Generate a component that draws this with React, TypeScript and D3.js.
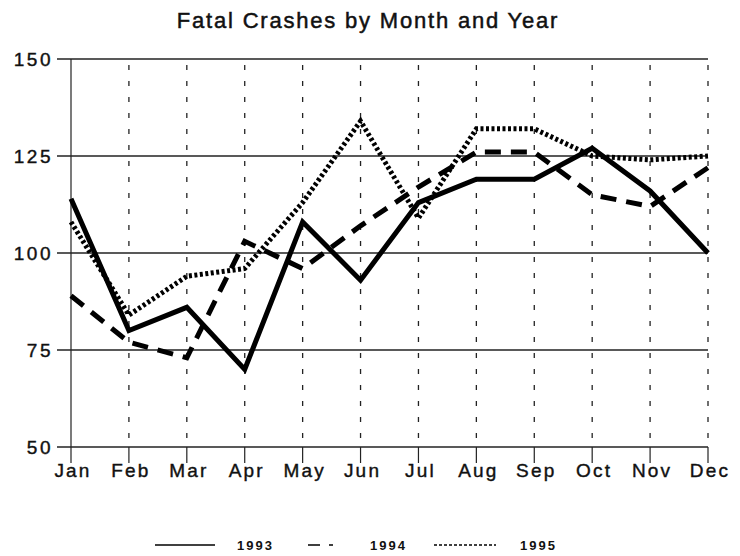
import { useRef, useEffect } from 'react';
import * as d3 from 'd3';

// values
const months = ['Jan', 'Feb', 'Mar', 'Apr', 'May', 'Jun', 'Jul', 'Aug', 'Sep', 'Oct', 'Nov', 'Dec'];
const crashes1993 = [114, 80, 86, 70, 108, 93, 113, 119, 119, 127, 116, 100];
const crashes1994 = [89, 77, 73, 103, 96, 107, 117, 126, 126, 115, 112, 122];
const crashes1995 = [108, 84, 94, 96, 113, 134, 109, 132, 132, 125, 124, 125];
const yTicks = [50, 75, 100, 125, 150];
const seriesNames = ['1993', '1994', '1995'];

const W = 740;
const H = 556;
const FONT = '"Liberation Sans", Arial, sans-serif';

// stroke styles per series: solid, long dash, short dash ("dotted")
const dashes = [null, '16,10', '3,2.5'];
const legendDashes = [null, '12,9,4,20', '3,2'];

export default function App() {
  const svgRef = useRef<SVGSVGElement>(null);

  useEffect(() => {
    const svg = d3.select(svgRef.current);
    svg.selectAll('*').remove();

    const left = 71, right = 708, top = 59, bottom = 447;

    const x = d3.scalePoint<string>().domain(months).range([left, right]);
    const y = d3.scaleLinear().domain([50, 150]).range([bottom, top]);

    svg.append('rect').attr('width', W).attr('height', H).attr('fill', '#fff');

    // title
    svg.append('text')
      .attr('x', 368)
      .attr('y', 28)
      .attr('text-anchor', 'middle')
      .attr('font-family', FONT)
      .attr('font-size', 22)
      .attr('letter-spacing', 1.8)
      .attr('fill', '#111')
      .attr('stroke', '#111')
      .attr('stroke-width', 0.5)
      .text('Fatal Crashes by Month and Year');

    // vertical dotted grid
    svg.append('g')
      .selectAll('line')
      .data(months.slice(1))
      .join('line')
      .attr('x1', d => x(d)!)
      .attr('x2', d => x(d)!)
      .attr('y1', top + 6)
      .attr('y2', bottom)
      .attr('stroke', '#222')
      .attr('stroke-width', 1.3)
      .attr('stroke-dasharray', '5,11');

    // horizontal grid + left ticks
    svg.append('g')
      .selectAll('line')
      .data(yTicks)
      .join('line')
      .attr('x1', left - 14)
      .attr('x2', right)
      .attr('y1', d => y(d))
      .attr('y2', d => y(d))
      .attr('stroke', '#222')
      .attr('stroke-width', 1.3);

    // left axis
    svg.append('line')
      .attr('x1', left).attr('x2', left)
      .attr('y1', top).attr('y2', bottom + 16)
      .attr('stroke', '#222').attr('stroke-width', 1.2);

    // bottom ticks
    svg.append('g')
      .selectAll('line')
      .data(months.slice(1))
      .join('line')
      .attr('x1', d => x(d)!)
      .attr('x2', d => x(d)!)
      .attr('y1', bottom)
      .attr('y2', bottom + 16)
      .attr('stroke', '#222')
      .attr('stroke-width', 1.2);

    // y labels
    svg.append('g')
      .selectAll('text')
      .data(yTicks)
      .join('text')
      .attr('x', 53)
      .attr('y', d => y(d) + 7)
      .attr('text-anchor', 'end')
      .attr('font-family', FONT)
      .attr('font-size', 19)
      .attr('letter-spacing', 2.5)
      .attr('fill', '#111')
      .attr('stroke', '#111')
      .attr('stroke-width', 0.4)
      .text(d => d);

    // x labels
    svg.append('g')
      .selectAll('text')
      .data(months)
      .join('text')
      .attr('x', d => x(d)! + 2)
      .attr('y', 477)
      .attr('text-anchor', 'middle')
      .attr('font-family', FONT)
      .attr('font-size', 19)
      .attr('letter-spacing', 2.2)
      .attr('fill', '#111')
      .attr('stroke', '#111')
      .attr('stroke-width', 0.4)
      .text(d => d);

    // series lines
    const series = [crashes1993, crashes1994, crashes1995];
    const line = d3.line<number>()
      .x((d, i) => x(months[i])!)
      .y(d => y(d));

    // draw 1995 first, then 1994, then 1993 on top
    [2, 1, 0].forEach(function (s) {
      svg.append('path')
        .datum(series[s])
        .attr('d', line)
        .attr('fill', 'none')
        .attr('stroke', '#000')
        .attr('stroke-width', 5)
        .attr('stroke-linejoin', 'miter')
        .attr('stroke-dasharray', dashes[s]);
    });

    // legend
    const legendY = 545;
    const legendItems = [
      { x1: 155, x2: 215, tx: 237 },
      { x1: 308, x2: 352, tx: 370 },
      { x1: 434, x2: 496, tx: 520 }
    ];
    legendItems.forEach(function (it, i) {
      svg.append('line')
        .attr('x1', it.x1).attr('x2', it.x2)
        .attr('y1', legendY).attr('y2', legendY)
        .attr('stroke', '#000')
        .attr('stroke-width', 1.6)
        .attr('stroke-dasharray', legendDashes[i]);
      svg.append('text')
        .attr('x', it.tx)
        .attr('y', legendY + 5)
        .attr('font-family', FONT)
        .attr('font-size', 13)
        .attr('font-weight', 'bold')
        .attr('letter-spacing', 2)
        .attr('fill', '#111')
        .text(seriesNames[i]);
    });
  }, []);

  return (
    <svg
      ref={svgRef}
      width={W}
      height={H}
      style={{ position: 'absolute', left: 0, top: 0, display: 'block' }}
    />
  );
}
